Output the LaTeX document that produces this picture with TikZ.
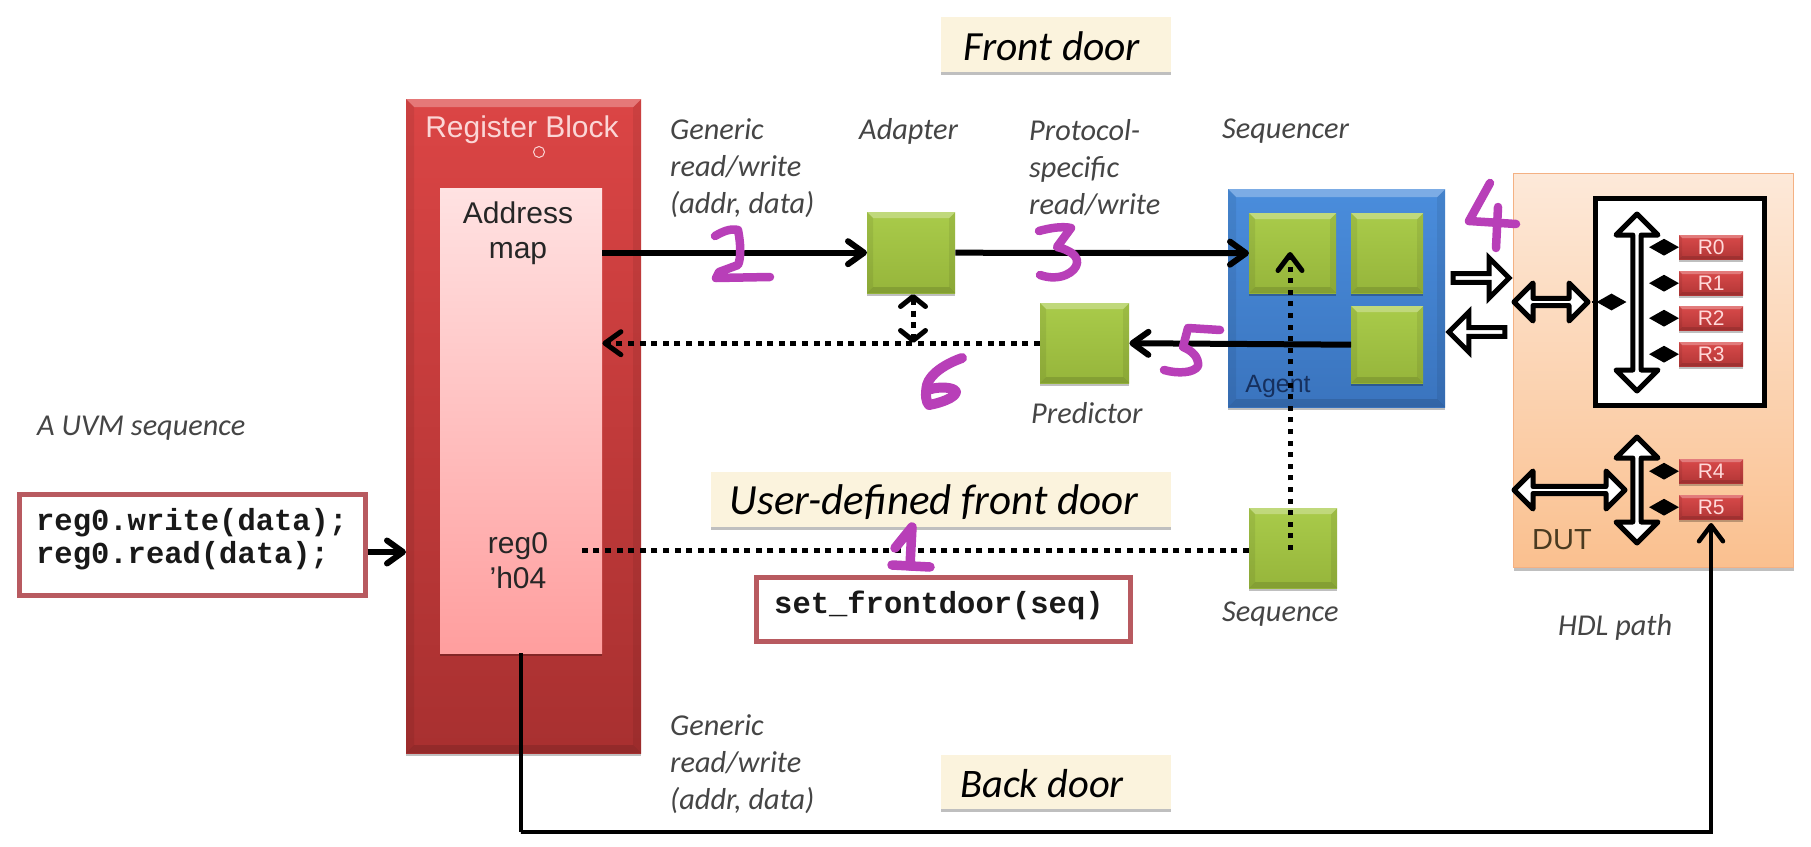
\documentclass[tikz,border=0pt]{standalone}
\usepackage{fontspec}
\setmainfont{Liberation Sans}
\newfontfamily\labfont{Carlito}
\newfontfamily\codefont{Liberation Mono}
\usetikzlibrary{arrows.meta,shadows,shapes.arrows,shapes.geometric}
\definecolor{penpurple}{HTML}{B83FB8}
\definecolor{labgray}{HTML}{454545}
\definecolor{codeedge}{HTML}{B85A60}
\newcommand{\hexcol}[1]{\definecolor{#1}{HTML}{#1}}
\hexcol{A9CB4A}\hexcol{96B53B}
\hexcol{D94A4A}\hexcol{B23636}
\hexcol{FBF3DD}\hexcol{DB4545}\hexcol{A83030}
\hexcol{FFE2E2}\hexcol{FF9E9E}\hexcol{FBD6D6}\hexcol{4A8DDC}\hexcol{3A74BE}
\hexcol{16305E}\hexcol{FDE9D9}\hexcol{FAC08F}\hexcol{F4B183}\hexcol{4A3A20}
\newcommand{\fsz}[1]{\fontsize{#1bp}{#1bp}\selectfont}
\tikzset{
  softshadow/.style={drop shadow={shadow xshift=0bp,shadow yshift=-3bp,opacity=.25,fill=black}},
  bevel/.style={path picture={
    \fill[white,opacity=.28] (path picture bounding box.north west) -- (path picture bounding box.north east)
      -- ([xshift=-#1,yshift=-#1]path picture bounding box.north east)
      -- ([xshift=#1,yshift=-#1]path picture bounding box.north west) -- cycle;
    \fill[black,opacity=.07] (path picture bounding box.north west)
      -- ([xshift=#1,yshift=-#1]path picture bounding box.north west)
      -- ([xshift=#1,yshift=#1]path picture bounding box.south west)
      -- (path picture bounding box.south west) -- cycle;
    \fill[black,opacity=.07] (path picture bounding box.north east)
      -- ([xshift=-#1,yshift=-#1]path picture bounding box.north east)
      -- ([xshift=-#1,yshift=#1]path picture bounding box.south east)
      -- (path picture bounding box.south east) -- cycle;
    \fill[black,opacity=.12] (path picture bounding box.south west)
      -- ([xshift=#1,yshift=#1]path picture bounding box.south west)
      -- ([xshift=-#1,yshift=#1]path picture bounding box.south east)
      -- (path picture bounding box.south east) -- cycle;
  }},
  block/.style={rectangle,inner sep=0pt,anchor=north west},
  greenbox/.style={block,top color=A9CB4A,bottom color=96B53B,softshadow,bevel=6bp},
  regbox/.style={block,minimum width=64bp,minimum height=24bp,top color=D94A4A,bottom color=B23636,
    text=white!85!red,font=\fsz{21},softshadow,bevel=3bp},
  italiclab/.style={anchor=west,inner sep=0pt,align=left,text=labgray,font=\labfont\itshape\fontsize{30.3bp}{37bp}\selectfont},
  doorbox/.style={block,fill=FBF3DD,softshadow},
  doorlab/.style={inner sep=0pt,text=black},
  codebox/.style={block,draw=codeedge,line width=4.5bp,fill=white},
  codelab/.style={anchor=west,inner sep=0pt,align=left,text=black!90,font=\codefont\bfseries\fontsize{30.5bp}{33bp}\selectfont},
  htip/.style={-{Straight Barb[length=16bp,width=23bp,line width=#1,round]}},
  vtip/.style={-{Straight Barb[length=16bp,width=24bp,line width=#1,round]}},
  solidarrow/.style={line width=6bp,htip=6bp},
  dotline/.style={line width=5bp,dash pattern=on 6bp off 5.6bp},
  dotarrow/.style={dotline,htip=5bp},
  dotup/.style={line width=5bp,dash pattern=on 5bp off 6.6bp,vtip=5bp},
  dotbiarrow/.style={line width=5bp,dash pattern=on 6bp off 5.6bp,
    {Straight Barb[length=10bp,width=25bp,line width=5bp,round]}-{Straight Barb[length=10bp,width=25bp,line width=5bp,round]}},
  buswide/.style={double arrow,draw=black,fill=white,line width=5bp,line join=round,inner sep=0pt,double arrow head extend=10bp,minimum width=42bp},
  linkwide/.style={double arrow,draw=black,fill=white,line width=5bp,line join=round,inner sep=0pt,double arrow head extend=11bp,minimum width=38bp},
  onewide/.style={single arrow,draw=black,fill=white,line width=5bp,inner sep=0pt,single arrow head extend=9bp,minimum width=40bp,minimum height=56bp},
  joint/.style={diamond,fill=black,inner sep=0pt,aspect=1.8,minimum width=30bp,minimum height=17bp},
  pen/.style={draw=penpurple,line width=8.5bp,line cap=round,line join=round},
}
\begin{document}
\begin{tikzpicture}[x=1bp,y=-1bp]
\useasboundingbox (0,0) rectangle (1811,847);
\fill[white] (0,0) rectangle (1811,847);

% register block
\node[block,minimum width=235bp,minimum height=654bp,top color=DB4545,bottom color=A83030,softshadow,bevel=8bp] (regblock) at (406,99) {};
\node[block,minimum width=162bp,minimum height=465bp,top color=FFE2E2,bottom color=FF9E9E,softshadow] (pink) at (440,188) {};
\node[text=FBD6D6,inner sep=0pt,font=\fsz{30}] (regtitle) at (522,130) {Register Block};
\node[circle,draw=FBD6D6,line width=1bp,minimum size=11bp,inner sep=0pt] (marker) at (539,152) {};
\node[inner sep=0pt,align=center,text=black!85,font=\fontsize{30bp}{35bp}\selectfont] (addrmap) at (518,233) {Address\\map};
\node[inner sep=0pt,align=center,text=black!85,font=\fontsize{30bp}{35bp}\selectfont] (reg0) at (518,561) {reg0\\\char39 h04};

% door banners
\node[doorbox,minimum width=230bp,minimum height=55bp] (frontbox) at (941,17) {};
\node[doorlab,font=\labfont\itshape\fsz{41.5}] (frontlab) at (1052,46) {Front door};
\node[doorbox,minimum width=460bp,minimum height=55bp] (userbox) at (711,472) {};
\node[doorlab,font=\labfont\itshape\fsz{43}] (userlab) at (934,502) {User-defined front door};
\node[doorbox,minimum width=230bp,minimum height=54bp] (backbox) at (941,755) {};
\node[doorlab,font=\labfont\itshape\fsz{40.5}] (backlab) at (1042,784) {Back door};

% italic labels
\node[italiclab] (gen1) at (670,168) {Generic\\read/write\\(addr, data)};
\node[italiclab] (adlab) at (859,131) {Adapter};
\node[italiclab] (protolab) at (1029,168) {Protocol-\\specific\\read/write};
\node[italiclab] (seqrlab) at (1222,131) {Sequencer};
\node[italiclab] (predlab) at (1031,413) {Predictor};
\node[italiclab] (uvmlab) at (37,428) {A UVM sequence};
\node[italiclab] (seqlab) at (1222,614) {Sequence};
\node[italiclab] (hdllab) at (1558,627) {HDL path};
\node[italiclab] (gen2) at (670,764) {Generic\\read/write\\(addr, data)};

% code boxes
\node[codebox,minimum width=346bp,minimum height=101bp] (codeA) at (17,492) {};
\node[codelab] (codeAtxt) at (36,539.5) {reg0.write(data);\\reg0.read(data);};
\node[codebox,minimum width=374bp,minimum height=64bp] (codeB) at (754,575) {};
\node[codelab] (codeBtxt) at (774,605) {set\_frontdoor(seq)};

% agent
\node[block,minimum width=217bp,minimum height=218bp,top color=4A8DDC,bottom color=3A74BE,softshadow,bevel=8bp] (agent) at (1228,189) {};
\node[inner sep=0pt,text=16305E,font=\fsz{25}] (agentlab) at (1278,386) {Agent};
\node[greenbox,minimum width=87bp,minimum height=80bp] (seqA) at (1249,213) {};
\node[greenbox,minimum width=72bp,minimum height=80bp] (seqB) at (1351,213) {};
\node[greenbox,minimum width=72bp,minimum height=77bp] (monitor) at (1351,306) {};
\node[greenbox,minimum width=88bp,minimum height=81bp] (adapter) at (867,212) {};
\node[greenbox,minimum width=89bp,minimum height=80bp] (predictor) at (1040,303) {};
\node[greenbox,minimum width=88bp,minimum height=80bp] (seqn) at (1249,508) {};

% DUT
\node[block,minimum width=280bp,minimum height=394bp,top color=FDE9D9,bottom color=FAC08F,draw=F4B183,line width=1bp,softshadow] (dut) at (1513,173) {};
\node[block,minimum width=169bp,minimum height=207bp,draw=black,line width=5bp,fill=white] (inner) at (1593,196) {};
\node[inner sep=0pt,anchor=west,text=4A3A20,font=\fsz{29}] (dutlab) at (1532,540) {DUT};
\node[regbox] (r0) at (1679,235) {R0};
\node[regbox] (r1) at (1679,271) {R1};
\node[regbox] (r2) at (1679,306) {R2};
\node[regbox] (r3) at (1679,342) {R3};
\node[regbox] (r4) at (1679,459) {R4};
\node[regbox] (r5) at (1679,495) {R5};
\node[buswide,rotate=90,minimum height=177bp] (busA) at (1637,302.5) {};
\node[buswide,rotate=90,minimum height=106bp] (busB) at (1637,490) {};
\node[linkwide,minimum height=74bp] (linkA) at (1551,302) {};
\node[linkwide,minimum height=111bp] (linkB) at (1569.5,490) {};
\node[onewide] (outarrow) at (1479,278) {};
\node[onewide,shape border rotate=180] (inarrow) at (1479,332) {};
\draw[line width=2bp] (linkA.east) -- (1625,302);
\node[joint] (jl) at (1611.5,302) {};
\foreach \n in {r0,r1,r2,r3,r4,r5}{\node[joint] (j\n) at (\n.west -| 1664,0) {};}

% connectors
\coordinate (dotend) at (1290,252);
\coordinate (dotstart) at (1290,550);
\coordinate (regdot) at (581,550);
\coordinate (backlow) at (521,832);
\coordinate (r5tip) at (1711,523);
\coordinate (dbltop) at (913,294);
\coordinate (dblbot) at (913,343);
\draw[solidarrow] (pink.east |- adapter.west) -- (adapter.west);
\draw[solidarrow] (adapter.east) -- (seqA.west);
\draw[solidarrow] (monitor.west) -- (predictor.east);
\draw[dotarrow] (predictor.west) -- (pink.east |- predictor.west);
\draw[dotbiarrow] (dbltop) -- (dblbot);
\draw[dotline] (seqn.west |- regdot) -- (regdot);
\draw[dotup] (dotstart) -- (dotend);
\draw[solidarrow] (codeA.east |- 0,552) -- (regblock.west |- 0,552);
\draw[line width=4.5bp,vtip=4.5bp] (pink.south) |- (backlow) -| (r5tip);

% handwritten numbers
\draw[pen] (715,236) .. controls (722,232) and (730,228) .. (738,230) .. controls (741,245) and (741,258) .. (738,265) -- (719,272) -- (716,278) -- (770,277);
\draw[pen,line width=9.5bp] (895,548) -- (912,527) -- (910,566);
\draw[pen,line width=9.5bp] (892,565) -- (930,567);
\draw[pen] (1039,231) .. controls (1050,228) and (1062,226) .. (1071,228) -- (1057,247) .. controls (1070,250) and (1078,256) .. (1077,263) .. controls (1076,272) and (1060,282) .. (1040,275);
\draw[pen] (1490,183) -- (1469,221) -- (1516,224);
\draw[pen] (1498,207) -- (1496,248);
\draw[pen] (1220,330) -- (1188,328) -- (1183,347) .. controls (1193,351) and (1199,358) .. (1198,366) .. controls (1194,373) and (1178,374) .. (1164,370);
\draw[pen,line width=10bp] (962,358) .. controls (945,364) and (930,374) .. (927,385) .. controls (925,395) and (926,402) .. (929,405) .. controls (940,403) and (955,398) .. (956,392) .. controls (955,387) and (938,386) .. (928,390);
\end{tikzpicture}
\end{document}
